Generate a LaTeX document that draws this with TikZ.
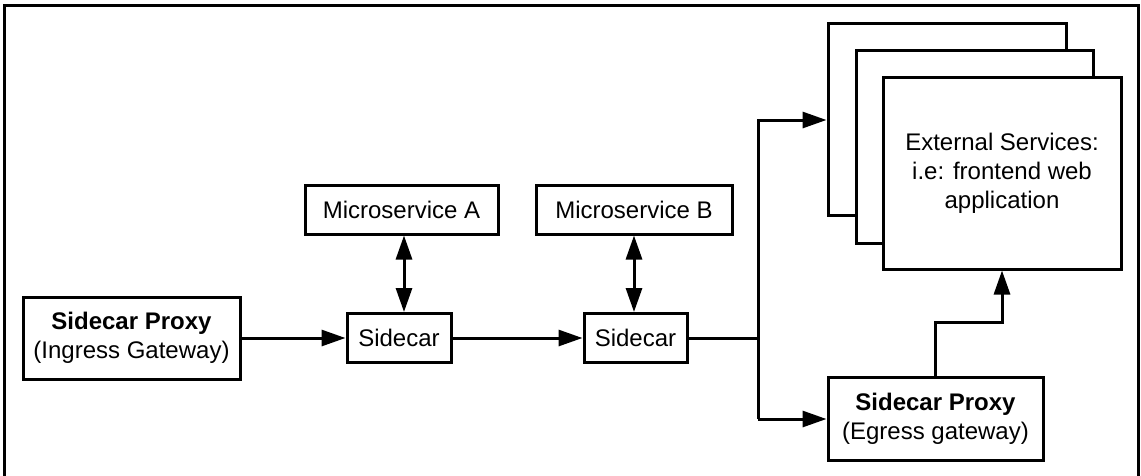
\documentclass[tikz,border=0pt]{standalone}
\usepackage{fontspec}
\setmainfont{Liberation Sans}
\usetikzlibrary{arrows.meta}
\begin{document}
\begin{tikzpicture}[x=1pt,y=-1pt,
  box/.style={draw, line width=3pt, fill=white, inner sep=0pt, align=center,
    font=\fontsize{24}{29}\selectfont},
  arr/.style={line width=3pt, -{Triangle[length=24pt,width=16pt]}},
  darr/.style={line width=3pt, {Triangle[length=24pt,width=16pt]}-{Triangle[length=24pt,width=16pt]}},
  frame/.style={line width=3pt}]
\useasboundingbox (0,0) rectangle (1141,475);
% frame (open at bottom)
\coordinate (fbl) at (4.5,476);
\coordinate (ftl) at (4.5,5);
\coordinate (ftr) at (1138.5,5);
\coordinate (fbr) at (1138.5,476);
\draw[frame] (fbl) -- (ftl) -- (ftr) -- (fbr);
% nodes
\node[box, minimum width=217pt, minimum height=82pt] (ing) at (131.5,338) {\textbf{Sidecar Proxy}\\(Ingress Gateway)};
\node[box, minimum width=104pt, minimum height=49pt] (sa) at (399,338) {Sidecar};
\node[box, minimum width=193pt, minimum height=49pt] (msa) at (401.5,209.5) {Microservice A};
\node[box, minimum width=196pt, minimum height=49pt] (msb) at (634,209.5) {Microservice B};
\node[box, minimum width=103pt, minimum height=49pt] (sb) at (635.5,338) {Sidecar};
\node[box, minimum width=238pt, minimum height=192pt] (back) at (947,119) {};
\node[box, minimum width=237pt, minimum height=193pt] (mid) at (974.5,146.5) {};
\node[box, minimum width=238pt, minimum height=192pt] (front) at (1002,173) {External Services:\\i.e: frontend web\\application};
\node[box, minimum width=215pt, minimum height=83pt] (eg) at (935.5,419) {\textbf{Sidecar Proxy}\\(Egress gateway)};
% helper coordinates
\coordinate (ax) at (404,0);
\coordinate (trunk) at (758,0);
% connectors
\draw[arr] (ing.east) -- (ing.east -| sa.west);
\draw[arr] (sa.east) -- (sa.east -| sb.west);
\draw[darr] (sa.north -| ax) -- (msa.south -| ax);
\draw[darr] (sb.north -| msb.south) -- (msb.south);
\draw[line width=3pt] (sb.east) -- (sb.east -| trunk);
\draw[arr] (eg.west -| trunk) |- (back.west |- 0,120) ;
\draw[arr] (eg.west -| trunk) -- (eg.west);
\draw[arr] (eg.north) -- ++(0,-54) -| (front.south);
\end{tikzpicture}
\end{document}
